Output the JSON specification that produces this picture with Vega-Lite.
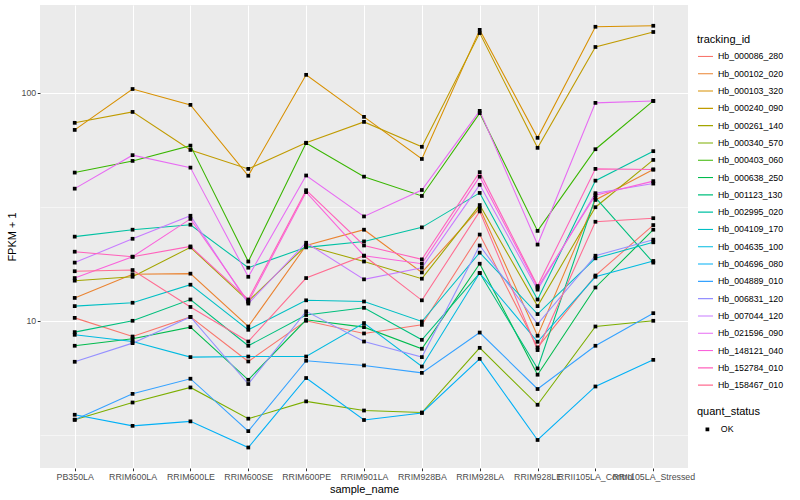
{
"$schema": "https://vega.github.io/schema/vega-lite/v6.json",
"width": 648, "height": 463,
"autosize": {"type": "none"},
"padding": {"left": 40, "top": 5, "right": 112, "bottom": 32},
"background": "white",
"config": {
  "font": "Liberation Sans",
  "view": {"fill": "#EBEBEB", "stroke": null},
  "axis": {"domain": false, "gridColor": "white", "tickColor": "#333333", "tickSize": 2.75, "labelColor": "#4D4D4D", "labelFontSize": 8.8, "titleFontSize": 11, "titleFontWeight": "normal", "titleColor": "black"},
  "legend": {"padding": 0, "titleFontSize": 11, "titleFontWeight": "normal", "titleColor": "black", "labelFontSize": 8.8, "labelColor": "black", "clipHeight": 16.9, "rowPadding": 0.3}
},
"datasets": {"expr": [
{"tracking_id":"Hb_000086_280","sample_name":"PB350LA","fpkm":10.3,"quant_status":"OK"},
{"tracking_id":"Hb_000086_280","sample_name":"RRIM600LA","fpkm":8.53,"quant_status":"OK"},
{"tracking_id":"Hb_000086_280","sample_name":"RRIM600LE","fpkm":10.4,"quant_status":"OK"},
{"tracking_id":"Hb_000086_280","sample_name":"RRIM600SE","fpkm":6.63,"quant_status":"OK"},
{"tracking_id":"Hb_000086_280","sample_name":"RRIM600PE","fpkm":10.0,"quant_status":"OK"},
{"tracking_id":"Hb_000086_280","sample_name":"RRIM901LA","fpkm":8.8,"quant_status":"OK"},
{"tracking_id":"Hb_000086_280","sample_name":"RRIM928BA","fpkm":9.6,"quant_status":"OK"},
{"tracking_id":"Hb_000086_280","sample_name":"RRIM928LA","fpkm":23.9,"quant_status":"OK"},
{"tracking_id":"Hb_000086_280","sample_name":"RRIM928LE","fpkm":7.64,"quant_status":"OK"},
{"tracking_id":"Hb_000086_280","sample_name":"RRII105LA_Control","fpkm":15.8,"quant_status":"OK"},
{"tracking_id":"Hb_000086_280","sample_name":"RRII105LA_Stressed","fpkm":26.3,"quant_status":"OK"},
{"tracking_id":"Hb_000102_020","sample_name":"PB350LA","fpkm":12.6,"quant_status":"OK"},
{"tracking_id":"Hb_000102_020","sample_name":"RRIM600LA","fpkm":16.0,"quant_status":"OK"},
{"tracking_id":"Hb_000102_020","sample_name":"RRIM600LE","fpkm":16.1,"quant_status":"OK"},
{"tracking_id":"Hb_000102_020","sample_name":"RRIM600SE","fpkm":9.44,"quant_status":"OK"},
{"tracking_id":"Hb_000102_020","sample_name":"RRIM600PE","fpkm":21.4,"quant_status":"OK"},
{"tracking_id":"Hb_000102_020","sample_name":"RRIM901LA","fpkm":25.1,"quant_status":"OK"},
{"tracking_id":"Hb_000102_020","sample_name":"RRIM928BA","fpkm":16.3,"quant_status":"OK"},
{"tracking_id":"Hb_000102_020","sample_name":"RRIM928LA","fpkm":31.2,"quant_status":"OK"},
{"tracking_id":"Hb_000102_020","sample_name":"RRIM928LE","fpkm":8.6,"quant_status":"OK"},
{"tracking_id":"Hb_000102_020","sample_name":"RRII105LA_Control","fpkm":33.9,"quant_status":"OK"},
{"tracking_id":"Hb_000102_020","sample_name":"RRII105LA_Stressed","fpkm":46.1,"quant_status":"OK"},
{"tracking_id":"Hb_000103_320","sample_name":"PB350LA","fpkm":68.8,"quant_status":"OK"},
{"tracking_id":"Hb_000103_320","sample_name":"RRIM600LA","fpkm":104,"quant_status":"OK"},
{"tracking_id":"Hb_000103_320","sample_name":"RRIM600LE","fpkm":88.6,"quant_status":"OK"},
{"tracking_id":"Hb_000103_320","sample_name":"RRIM600SE","fpkm":43.3,"quant_status":"OK"},
{"tracking_id":"Hb_000103_320","sample_name":"RRIM600PE","fpkm":120,"quant_status":"OK"},
{"tracking_id":"Hb_000103_320","sample_name":"RRIM901LA","fpkm":78.5,"quant_status":"OK"},
{"tracking_id":"Hb_000103_320","sample_name":"RRIM928BA","fpkm":51.3,"quant_status":"OK"},
{"tracking_id":"Hb_000103_320","sample_name":"RRIM928LA","fpkm":189,"quant_status":"OK"},
{"tracking_id":"Hb_000103_320","sample_name":"RRIM928LE","fpkm":63.5,"quant_status":"OK"},
{"tracking_id":"Hb_000103_320","sample_name":"RRII105LA_Control","fpkm":195,"quant_status":"OK"},
{"tracking_id":"Hb_000103_320","sample_name":"RRII105LA_Stressed","fpkm":197,"quant_status":"OK"},
{"tracking_id":"Hb_000240_090","sample_name":"PB350LA","fpkm":73.9,"quant_status":"OK"},
{"tracking_id":"Hb_000240_090","sample_name":"RRIM600LA","fpkm":82.5,"quant_status":"OK"},
{"tracking_id":"Hb_000240_090","sample_name":"RRIM600LE","fpkm":56.2,"quant_status":"OK"},
{"tracking_id":"Hb_000240_090","sample_name":"RRIM600SE","fpkm":46.4,"quant_status":"OK"},
{"tracking_id":"Hb_000240_090","sample_name":"RRIM600PE","fpkm":60.4,"quant_status":"OK"},
{"tracking_id":"Hb_000240_090","sample_name":"RRIM901LA","fpkm":74.6,"quant_status":"OK"},
{"tracking_id":"Hb_000240_090","sample_name":"RRIM928BA","fpkm":58.0,"quant_status":"OK"},
{"tracking_id":"Hb_000240_090","sample_name":"RRIM928LA","fpkm":183,"quant_status":"OK"},
{"tracking_id":"Hb_000240_090","sample_name":"RRIM928LE","fpkm":57.4,"quant_status":"OK"},
{"tracking_id":"Hb_000240_090","sample_name":"RRII105LA_Control","fpkm":159,"quant_status":"OK"},
{"tracking_id":"Hb_000240_090","sample_name":"RRII105LA_Stressed","fpkm":185,"quant_status":"OK"},
{"tracking_id":"Hb_000261_140","sample_name":"PB350LA","fpkm":15.0,"quant_status":"OK"},
{"tracking_id":"Hb_000261_140","sample_name":"RRIM600LA","fpkm":15.6,"quant_status":"OK"},
{"tracking_id":"Hb_000261_140","sample_name":"RRIM600LE","fpkm":21.0,"quant_status":"OK"},
{"tracking_id":"Hb_000261_140","sample_name":"RRIM600SE","fpkm":12.2,"quant_status":"OK"},
{"tracking_id":"Hb_000261_140","sample_name":"RRIM600PE","fpkm":21.4,"quant_status":"OK"},
{"tracking_id":"Hb_000261_140","sample_name":"RRIM901LA","fpkm":18.2,"quant_status":"OK"},
{"tracking_id":"Hb_000261_140","sample_name":"RRIM928BA","fpkm":15.3,"quant_status":"OK"},
{"tracking_id":"Hb_000261_140","sample_name":"RRIM928LA","fpkm":32.2,"quant_status":"OK"},
{"tracking_id":"Hb_000261_140","sample_name":"RRIM928LE","fpkm":11.6,"quant_status":"OK"},
{"tracking_id":"Hb_000261_140","sample_name":"RRII105LA_Control","fpkm":31.5,"quant_status":"OK"},
{"tracking_id":"Hb_000261_140","sample_name":"RRII105LA_Stressed","fpkm":50.8,"quant_status":"OK"},
{"tracking_id":"Hb_000340_570","sample_name":"PB350LA","fpkm":3.68,"quant_status":"OK"},
{"tracking_id":"Hb_000340_570","sample_name":"RRIM600LA","fpkm":4.38,"quant_status":"OK"},
{"tracking_id":"Hb_000340_570","sample_name":"RRIM600LE","fpkm":5.10,"quant_status":"OK"},
{"tracking_id":"Hb_000340_570","sample_name":"RRIM600SE","fpkm":3.72,"quant_status":"OK"},
{"tracking_id":"Hb_000340_570","sample_name":"RRIM600PE","fpkm":4.43,"quant_status":"OK"},
{"tracking_id":"Hb_000340_570","sample_name":"RRIM901LA","fpkm":4.04,"quant_status":"OK"},
{"tracking_id":"Hb_000340_570","sample_name":"RRIM928BA","fpkm":3.96,"quant_status":"OK"},
{"tracking_id":"Hb_000340_570","sample_name":"RRIM928LA","fpkm":7.61,"quant_status":"OK"},
{"tracking_id":"Hb_000340_570","sample_name":"RRIM928LE","fpkm":4.28,"quant_status":"OK"},
{"tracking_id":"Hb_000340_570","sample_name":"RRII105LA_Control","fpkm":9.44,"quant_status":"OK"},
{"tracking_id":"Hb_000340_570","sample_name":"RRII105LA_Stressed","fpkm":10.0,"quant_status":"OK"},
{"tracking_id":"Hb_000403_060","sample_name":"PB350LA","fpkm":44.7,"quant_status":"OK"},
{"tracking_id":"Hb_000403_060","sample_name":"RRIM600LA","fpkm":50.3,"quant_status":"OK"},
{"tracking_id":"Hb_000403_060","sample_name":"RRIM600LE","fpkm":58.7,"quant_status":"OK"},
{"tracking_id":"Hb_000403_060","sample_name":"RRIM600SE","fpkm":18.2,"quant_status":"OK"},
{"tracking_id":"Hb_000403_060","sample_name":"RRIM600PE","fpkm":60.2,"quant_status":"OK"},
{"tracking_id":"Hb_000403_060","sample_name":"RRIM901LA","fpkm":42.9,"quant_status":"OK"},
{"tracking_id":"Hb_000403_060","sample_name":"RRIM928BA","fpkm":35.3,"quant_status":"OK"},
{"tracking_id":"Hb_000403_060","sample_name":"RRIM928LA","fpkm":81.5,"quant_status":"OK"},
{"tracking_id":"Hb_000403_060","sample_name":"RRIM928LE","fpkm":24.8,"quant_status":"OK"},
{"tracking_id":"Hb_000403_060","sample_name":"RRII105LA_Control","fpkm":56.6,"quant_status":"OK"},
{"tracking_id":"Hb_000403_060","sample_name":"RRII105LA_Stressed","fpkm":92.2,"quant_status":"OK"},
{"tracking_id":"Hb_000638_250","sample_name":"PB350LA","fpkm":7.77,"quant_status":"OK"},
{"tracking_id":"Hb_000638_250","sample_name":"RRIM600LA","fpkm":8.34,"quant_status":"OK"},
{"tracking_id":"Hb_000638_250","sample_name":"RRIM600LE","fpkm":9.38,"quant_status":"OK"},
{"tracking_id":"Hb_000638_250","sample_name":"RRIM600SE","fpkm":5.51,"quant_status":"OK"},
{"tracking_id":"Hb_000638_250","sample_name":"RRIM600PE","fpkm":10.1,"quant_status":"OK"},
{"tracking_id":"Hb_000638_250","sample_name":"RRIM901LA","fpkm":9.38,"quant_status":"OK"},
{"tracking_id":"Hb_000638_250","sample_name":"RRIM928BA","fpkm":7.54,"quant_status":"OK"},
{"tracking_id":"Hb_000638_250","sample_name":"RRIM928LA","fpkm":17.8,"quant_status":"OK"},
{"tracking_id":"Hb_000638_250","sample_name":"RRIM928LE","fpkm":5.80,"quant_status":"OK"},
{"tracking_id":"Hb_000638_250","sample_name":"RRII105LA_Control","fpkm":14.0,"quant_status":"OK"},
{"tracking_id":"Hb_000638_250","sample_name":"RRII105LA_Stressed","fpkm":25.1,"quant_status":"OK"},
{"tracking_id":"Hb_001123_130","sample_name":"PB350LA","fpkm":8.92,"quant_status":"OK"},
{"tracking_id":"Hb_001123_130","sample_name":"RRIM600LA","fpkm":10.0,"quant_status":"OK"},
{"tracking_id":"Hb_001123_130","sample_name":"RRIM600LE","fpkm":12.4,"quant_status":"OK"},
{"tracking_id":"Hb_001123_130","sample_name":"RRIM600SE","fpkm":7.77,"quant_status":"OK"},
{"tracking_id":"Hb_001123_130","sample_name":"RRIM600PE","fpkm":10.6,"quant_status":"OK"},
{"tracking_id":"Hb_001123_130","sample_name":"RRIM901LA","fpkm":11.4,"quant_status":"OK"},
{"tracking_id":"Hb_001123_130","sample_name":"RRIM928BA","fpkm":8.25,"quant_status":"OK"},
{"tracking_id":"Hb_001123_130","sample_name":"RRIM928LA","fpkm":16.2,"quant_status":"OK"},
{"tracking_id":"Hb_001123_130","sample_name":"RRIM928LE","fpkm":6.18,"quant_status":"OK"},
{"tracking_id":"Hb_001123_130","sample_name":"RRII105LA_Control","fpkm":34.7,"quant_status":"OK"},
{"tracking_id":"Hb_001123_130","sample_name":"RRII105LA_Stressed","fpkm":18.0,"quant_status":"OK"},
{"tracking_id":"Hb_002995_020","sample_name":"PB350LA","fpkm":23.4,"quant_status":"OK"},
{"tracking_id":"Hb_002995_020","sample_name":"RRIM600LA","fpkm":25.1,"quant_status":"OK"},
{"tracking_id":"Hb_002995_020","sample_name":"RRIM600LE","fpkm":26.4,"quant_status":"OK"},
{"tracking_id":"Hb_002995_020","sample_name":"RRIM600SE","fpkm":17.1,"quant_status":"OK"},
{"tracking_id":"Hb_002995_020","sample_name":"RRIM600PE","fpkm":21.0,"quant_status":"OK"},
{"tracking_id":"Hb_002995_020","sample_name":"RRIM901LA","fpkm":22.3,"quant_status":"OK"},
{"tracking_id":"Hb_002995_020","sample_name":"RRIM928BA","fpkm":25.7,"quant_status":"OK"},
{"tracking_id":"Hb_002995_020","sample_name":"RRIM928LA","fpkm":36.4,"quant_status":"OK"},
{"tracking_id":"Hb_002995_020","sample_name":"RRIM928LE","fpkm":12.4,"quant_status":"OK"},
{"tracking_id":"Hb_002995_020","sample_name":"RRII105LA_Control","fpkm":41.2,"quant_status":"OK"},
{"tracking_id":"Hb_002995_020","sample_name":"RRII105LA_Stressed","fpkm":55.5,"quant_status":"OK"},
{"tracking_id":"Hb_004109_170","sample_name":"PB350LA","fpkm":11.6,"quant_status":"OK"},
{"tracking_id":"Hb_004109_170","sample_name":"RRIM600LA","fpkm":12.0,"quant_status":"OK"},
{"tracking_id":"Hb_004109_170","sample_name":"RRIM600LE","fpkm":14.4,"quant_status":"OK"},
{"tracking_id":"Hb_004109_170","sample_name":"RRIM600SE","fpkm":9.13,"quant_status":"OK"},
{"tracking_id":"Hb_004109_170","sample_name":"RRIM600PE","fpkm":12.3,"quant_status":"OK"},
{"tracking_id":"Hb_004109_170","sample_name":"RRIM901LA","fpkm":12.15,"quant_status":"OK"},
{"tracking_id":"Hb_004109_170","sample_name":"RRIM928BA","fpkm":9.93,"quant_status":"OK"},
{"tracking_id":"Hb_004109_170","sample_name":"RRIM928LA","fpkm":19.9,"quant_status":"OK"},
{"tracking_id":"Hb_004109_170","sample_name":"RRIM928LE","fpkm":10.7,"quant_status":"OK"},
{"tracking_id":"Hb_004109_170","sample_name":"RRII105LA_Control","fpkm":18.8,"quant_status":"OK"},
{"tracking_id":"Hb_004109_170","sample_name":"RRII105LA_Stressed","fpkm":22.1,"quant_status":"OK"},
{"tracking_id":"Hb_004635_100","sample_name":"PB350LA","fpkm":8.68,"quant_status":"OK"},
{"tracking_id":"Hb_004635_100","sample_name":"RRIM600LA","fpkm":8.11,"quant_status":"OK"},
{"tracking_id":"Hb_004635_100","sample_name":"RRIM600LE","fpkm":6.93,"quant_status":"OK"},
{"tracking_id":"Hb_004635_100","sample_name":"RRIM600SE","fpkm":6.97,"quant_status":"OK"},
{"tracking_id":"Hb_004635_100","sample_name":"RRIM600PE","fpkm":6.97,"quant_status":"OK"},
{"tracking_id":"Hb_004635_100","sample_name":"RRIM901LA","fpkm":9.77,"quant_status":"OK"},
{"tracking_id":"Hb_004635_100","sample_name":"RRIM928BA","fpkm":6.30,"quant_status":"OK"},
{"tracking_id":"Hb_004635_100","sample_name":"RRIM928LA","fpkm":16.2,"quant_status":"OK"},
{"tracking_id":"Hb_004635_100","sample_name":"RRIM928LE","fpkm":8.09,"quant_status":"OK"},
{"tracking_id":"Hb_004635_100","sample_name":"RRII105LA_Control","fpkm":15.6,"quant_status":"OK"},
{"tracking_id":"Hb_004635_100","sample_name":"RRII105LA_Stressed","fpkm":18.3,"quant_status":"OK"},
{"tracking_id":"Hb_004696_080","sample_name":"PB350LA","fpkm":3.87,"quant_status":"OK"},
{"tracking_id":"Hb_004696_080","sample_name":"RRIM600LA","fpkm":3.46,"quant_status":"OK"},
{"tracking_id":"Hb_004696_080","sample_name":"RRIM600LE","fpkm":3.62,"quant_status":"OK"},
{"tracking_id":"Hb_004696_080","sample_name":"RRIM600SE","fpkm":2.78,"quant_status":"OK"},
{"tracking_id":"Hb_004696_080","sample_name":"RRIM600PE","fpkm":5.61,"quant_status":"OK"},
{"tracking_id":"Hb_004696_080","sample_name":"RRIM901LA","fpkm":3.67,"quant_status":"OK"},
{"tracking_id":"Hb_004696_080","sample_name":"RRIM928BA","fpkm":3.94,"quant_status":"OK"},
{"tracking_id":"Hb_004696_080","sample_name":"RRIM928LA","fpkm":6.81,"quant_status":"OK"},
{"tracking_id":"Hb_004696_080","sample_name":"RRIM928LE","fpkm":3.00,"quant_status":"OK"},
{"tracking_id":"Hb_004696_080","sample_name":"RRII105LA_Control","fpkm":5.15,"quant_status":"OK"},
{"tracking_id":"Hb_004696_080","sample_name":"RRII105LA_Stressed","fpkm":6.74,"quant_status":"OK"},
{"tracking_id":"Hb_004889_010","sample_name":"PB350LA","fpkm":3.68,"quant_status":"OK"},
{"tracking_id":"Hb_004889_010","sample_name":"RRIM600LA","fpkm":4.78,"quant_status":"OK"},
{"tracking_id":"Hb_004889_010","sample_name":"RRIM600LE","fpkm":5.57,"quant_status":"OK"},
{"tracking_id":"Hb_004889_010","sample_name":"RRIM600SE","fpkm":3.28,"quant_status":"OK"},
{"tracking_id":"Hb_004889_010","sample_name":"RRIM600PE","fpkm":6.68,"quant_status":"OK"},
{"tracking_id":"Hb_004889_010","sample_name":"RRIM901LA","fpkm":6.37,"quant_status":"OK"},
{"tracking_id":"Hb_004889_010","sample_name":"RRIM928BA","fpkm":5.91,"quant_status":"OK"},
{"tracking_id":"Hb_004889_010","sample_name":"RRIM928LA","fpkm":8.88,"quant_status":"OK"},
{"tracking_id":"Hb_004889_010","sample_name":"RRIM928LE","fpkm":5.02,"quant_status":"OK"},
{"tracking_id":"Hb_004889_010","sample_name":"RRII105LA_Control","fpkm":7.77,"quant_status":"OK"},
{"tracking_id":"Hb_004889_010","sample_name":"RRII105LA_Stressed","fpkm":10.8,"quant_status":"OK"},
{"tracking_id":"Hb_006831_120","sample_name":"PB350LA","fpkm":6.61,"quant_status":"OK"},
{"tracking_id":"Hb_006831_120","sample_name":"RRIM600LA","fpkm":7.98,"quant_status":"OK"},
{"tracking_id":"Hb_006831_120","sample_name":"RRIM600LE","fpkm":10.4,"quant_status":"OK"},
{"tracking_id":"Hb_006831_120","sample_name":"RRIM600SE","fpkm":5.28,"quant_status":"OK"},
{"tracking_id":"Hb_006831_120","sample_name":"RRIM600PE","fpkm":11.0,"quant_status":"OK"},
{"tracking_id":"Hb_006831_120","sample_name":"RRIM901LA","fpkm":8.11,"quant_status":"OK"},
{"tracking_id":"Hb_006831_120","sample_name":"RRIM928BA","fpkm":6.93,"quant_status":"OK"},
{"tracking_id":"Hb_006831_120","sample_name":"RRIM928LA","fpkm":21.4,"quant_status":"OK"},
{"tracking_id":"Hb_006831_120","sample_name":"RRIM928LE","fpkm":9.67,"quant_status":"OK"},
{"tracking_id":"Hb_006831_120","sample_name":"RRII105LA_Control","fpkm":19.3,"quant_status":"OK"},
{"tracking_id":"Hb_006831_120","sample_name":"RRII105LA_Stressed","fpkm":22.7,"quant_status":"OK"},
{"tracking_id":"Hb_007044_120","sample_name":"PB350LA","fpkm":18.0,"quant_status":"OK"},
{"tracking_id":"Hb_007044_120","sample_name":"RRIM600LA","fpkm":22.9,"quant_status":"OK"},
{"tracking_id":"Hb_007044_120","sample_name":"RRIM600LE","fpkm":28.9,"quant_status":"OK"},
{"tracking_id":"Hb_007044_120","sample_name":"RRIM600SE","fpkm":11.9,"quant_status":"OK"},
{"tracking_id":"Hb_007044_120","sample_name":"RRIM600PE","fpkm":22.0,"quant_status":"OK"},
{"tracking_id":"Hb_007044_120","sample_name":"RRIM901LA","fpkm":15.2,"quant_status":"OK"},
{"tracking_id":"Hb_007044_120","sample_name":"RRIM928BA","fpkm":17.1,"quant_status":"OK"},
{"tracking_id":"Hb_007044_120","sample_name":"RRIM928LA","fpkm":39.5,"quant_status":"OK"},
{"tracking_id":"Hb_007044_120","sample_name":"RRIM928LE","fpkm":13.7,"quant_status":"OK"},
{"tracking_id":"Hb_007044_120","sample_name":"RRII105LA_Control","fpkm":36.3,"quant_status":"OK"},
{"tracking_id":"Hb_007044_120","sample_name":"RRII105LA_Stressed","fpkm":40.0,"quant_status":"OK"},
{"tracking_id":"Hb_021596_090","sample_name":"PB350LA","fpkm":38.0,"quant_status":"OK"},
{"tracking_id":"Hb_021596_090","sample_name":"RRIM600LA","fpkm":53.3,"quant_status":"OK"},
{"tracking_id":"Hb_021596_090","sample_name":"RRIM600LE","fpkm":47.0,"quant_status":"OK"},
{"tracking_id":"Hb_021596_090","sample_name":"RRIM600SE","fpkm":15.6,"quant_status":"OK"},
{"tracking_id":"Hb_021596_090","sample_name":"RRIM600PE","fpkm":43.4,"quant_status":"OK"},
{"tracking_id":"Hb_021596_090","sample_name":"RRIM901LA","fpkm":28.7,"quant_status":"OK"},
{"tracking_id":"Hb_021596_090","sample_name":"RRIM928BA","fpkm":37.5,"quant_status":"OK"},
{"tracking_id":"Hb_021596_090","sample_name":"RRIM928LA","fpkm":83.4,"quant_status":"OK"},
{"tracking_id":"Hb_021596_090","sample_name":"RRIM928LE","fpkm":21.6,"quant_status":"OK"},
{"tracking_id":"Hb_021596_090","sample_name":"RRII105LA_Control","fpkm":90.4,"quant_status":"OK"},
{"tracking_id":"Hb_021596_090","sample_name":"RRII105LA_Stressed","fpkm":92.2,"quant_status":"OK"},
{"tracking_id":"Hb_148121_040","sample_name":"PB350LA","fpkm":15.4,"quant_status":"OK"},
{"tracking_id":"Hb_148121_040","sample_name":"RRIM600LA","fpkm":19.1,"quant_status":"OK"},
{"tracking_id":"Hb_148121_040","sample_name":"RRIM600LE","fpkm":28.0,"quant_status":"OK"},
{"tracking_id":"Hb_148121_040","sample_name":"RRIM600SE","fpkm":12.1,"quant_status":"OK"},
{"tracking_id":"Hb_148121_040","sample_name":"RRIM600PE","fpkm":36.7,"quant_status":"OK"},
{"tracking_id":"Hb_148121_040","sample_name":"RRIM901LA","fpkm":19.3,"quant_status":"OK"},
{"tracking_id":"Hb_148121_040","sample_name":"RRIM928BA","fpkm":17.8,"quant_status":"OK"},
{"tracking_id":"Hb_148121_040","sample_name":"RRIM928LA","fpkm":42.9,"quant_status":"OK"},
{"tracking_id":"Hb_148121_040","sample_name":"RRIM928LE","fpkm":14.0,"quant_status":"OK"},
{"tracking_id":"Hb_148121_040","sample_name":"RRII105LA_Control","fpkm":35.6,"quant_status":"OK"},
{"tracking_id":"Hb_148121_040","sample_name":"RRII105LA_Stressed","fpkm":41.0,"quant_status":"OK"},
{"tracking_id":"Hb_152784_010","sample_name":"PB350LA","fpkm":20.1,"quant_status":"OK"},
{"tracking_id":"Hb_152784_010","sample_name":"RRIM600LA","fpkm":19.1,"quant_status":"OK"},
{"tracking_id":"Hb_152784_010","sample_name":"RRIM600LE","fpkm":21.2,"quant_status":"OK"},
{"tracking_id":"Hb_152784_010","sample_name":"RRIM600SE","fpkm":12.4,"quant_status":"OK"},
{"tracking_id":"Hb_152784_010","sample_name":"RRIM600PE","fpkm":37.4,"quant_status":"OK"},
{"tracking_id":"Hb_152784_010","sample_name":"RRIM901LA","fpkm":21.4,"quant_status":"OK"},
{"tracking_id":"Hb_152784_010","sample_name":"RRIM928BA","fpkm":18.6,"quant_status":"OK"},
{"tracking_id":"Hb_152784_010","sample_name":"RRIM928LA","fpkm":44.9,"quant_status":"OK"},
{"tracking_id":"Hb_152784_010","sample_name":"RRIM928LE","fpkm":14.2,"quant_status":"OK"},
{"tracking_id":"Hb_152784_010","sample_name":"RRII105LA_Control","fpkm":46.4,"quant_status":"OK"},
{"tracking_id":"Hb_152784_010","sample_name":"RRII105LA_Stressed","fpkm":46.1,"quant_status":"OK"},
{"tracking_id":"Hb_158467_010","sample_name":"PB350LA","fpkm":16.5,"quant_status":"OK"},
{"tracking_id":"Hb_158467_010","sample_name":"RRIM600LA","fpkm":16.7,"quant_status":"OK"},
{"tracking_id":"Hb_158467_010","sample_name":"RRIM600LE","fpkm":11.5,"quant_status":"OK"},
{"tracking_id":"Hb_158467_010","sample_name":"RRIM600SE","fpkm":8.11,"quant_status":"OK"},
{"tracking_id":"Hb_158467_010","sample_name":"RRIM600PE","fpkm":15.4,"quant_status":"OK"},
{"tracking_id":"Hb_158467_010","sample_name":"RRIM901LA","fpkm":19.3,"quant_status":"OK"},
{"tracking_id":"Hb_158467_010","sample_name":"RRIM928BA","fpkm":12.3,"quant_status":"OK"},
{"tracking_id":"Hb_158467_010","sample_name":"RRIM928LA","fpkm":30.2,"quant_status":"OK"},
{"tracking_id":"Hb_158467_010","sample_name":"RRIM928LE","fpkm":7.44,"quant_status":"OK"},
{"tracking_id":"Hb_158467_010","sample_name":"RRII105LA_Control","fpkm":27.2,"quant_status":"OK"},
{"tracking_id":"Hb_158467_010","sample_name":"RRII105LA_Stressed","fpkm":28.2,"quant_status":"OK"}
]},
"data": {"name": "expr"},
"encoding": {
  "x": {"field": "sample_name", "type": "nominal",
    "sort": ["PB350LA","RRIM600LA","RRIM600LE","RRIM600SE","RRIM600PE","RRIM901LA","RRIM928BA","RRIM928LA","RRIM928LE","RRII105LA_Control","RRII105LA_Stressed"],
    "scale": {"type": "point", "padding": 0.6},
    "axis": {"title": "sample_name", "labelAngle": 0, "grid": true, "gridWidth": 1.07, "labelOverlap": false, "labelBound": false, "labelFlush": false, "labelPadding": 1.5, "titlePadding": 2}},
  "y": {"field": "fpkm", "type": "quantitative",
    "scale": {"type": "log", "domain": [2.26, 243], "nice": false, "zero": false},
    "axis": {"title": "FPKM + 1", "values": [3.1623, 10, 31.623, 100],
      "labelExpr": "datum.value == 10 ? '10' : (datum.value == 100 ? '100' : '')",
      "gridWidth": {"condition": {"test": "datum.value == 10 || datum.value == 100", "value": 1.07}, "value": 0.53},
      "tickOpacity": {"condition": {"test": "datum.value == 10 || datum.value == 100", "value": 1}, "value": 0},
      "labelPadding": 1.5, "titlePadding": 4}}
},
"layer": [
  {"mark": {"type": "line", "strokeWidth": 1.07},
   "encoding": {"color": {"field": "tracking_id", "type": "nominal",
     "scale": {"domain": ["Hb_000086_280","Hb_000102_020","Hb_000103_320","Hb_000240_090","Hb_000261_140","Hb_000340_570","Hb_000403_060","Hb_000638_250","Hb_001123_130","Hb_002995_020","Hb_004109_170","Hb_004635_100","Hb_004696_080","Hb_004889_010","Hb_006831_120","Hb_007044_120","Hb_021596_090","Hb_148121_040","Hb_152784_010","Hb_158467_010"],
       "range": ["#F8766D","#EA8331","#D89000","#C09B00","#A3A500","#7CAE00","#39B600","#00BB4E","#00BF7D","#00C1A3","#00BFC4","#00BAE0","#00B0F6","#35A2FF","#9590FF","#C77CFF","#E76BF3","#FA62DB","#FF62BC","#FF6C91"]},
     "legend": {"title": "tracking_id", "orient": "none", "legendX": 657, "legendY": 29, "symbolType": "stroke", "symbolSize": 225, "symbolStrokeWidth": 1.07, "titlePadding": 3}}}},
  {"mark": {"type": "point", "filled": true, "size": 14, "opacity": 1, "color": "black"},
   "encoding": {"shape": {"field": "quant_status", "type": "nominal", "scale": {"range": ["square"]},
     "legend": {"title": "quant_status", "orient": "none", "legendX": 657, "legendY": 401, "symbolSize": 14, "symbolFillColor": "black", "symbolStrokeColor": "black", "symbolOffset": 6, "labelOffset": 9, "titlePadding": 4}},
     "detail": {"field": "tracking_id", "type": "nominal"}}}
]
}
